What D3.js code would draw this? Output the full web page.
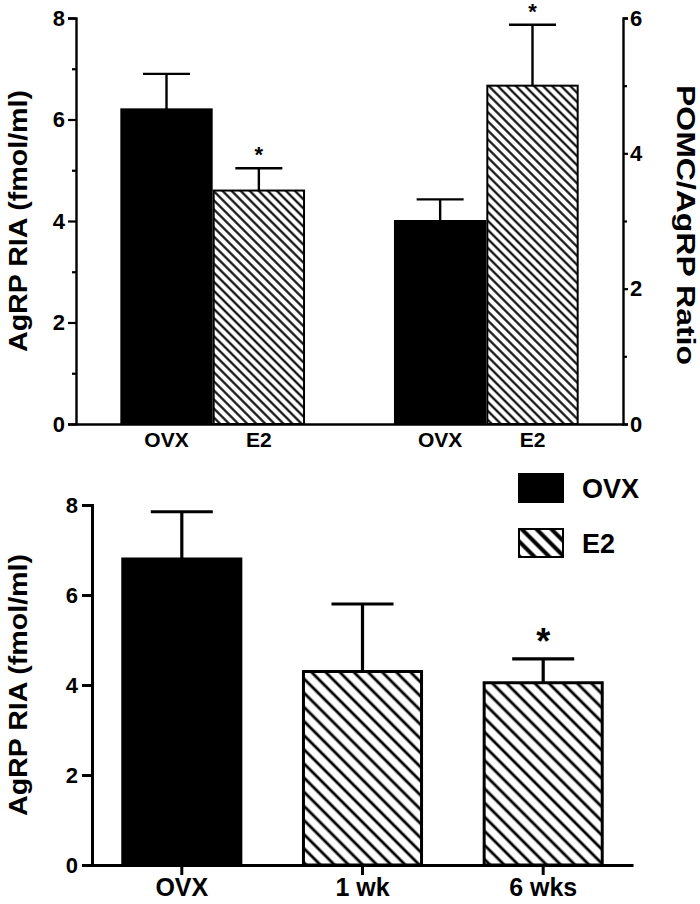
<!DOCTYPE html>
<html>
<head>
<meta charset="utf-8">
<script src="https://cdn.jsdelivr.net/npm/d3@7"></script>
<style>
  html, body { margin: 0; padding: 0; background: #fff; }
  svg { display: block; }
  text { font-family: "Liberation Sans", Arial, Helvetica, sans-serif; font-weight: bold; fill: #000; }
</style>
</head>
<body>
<svg id="chart" width="700" height="904"></svg>
<script>
// ---------- data ----------
const topGroups = ["AgRP", "Ratio"];
const topCategories = ["OVX", "E2"];
const topAgrpMeans = [6.2, 4.6];
const topAgrpErrors = [0.7, 0.44];
const topRatioMeans = [3.0, 5.0];
const topRatioErrors = [0.32, 0.9];
const topSignificant = [false, true];

const bottomCategories = ["OVX", "1 wk", "6 wks"];
const bottomMeans = [6.8, 4.3, 4.05];
const bottomErrors = [1.05, 1.5, 0.53];
const bottomSignificant = [false, false, true];
const bottomFills = ["OVX", "E2", "E2"];

const leftTicks = [0, 2, 4, 6, 8];
const leftMinorTicks = [1, 3, 5, 7];
const rightTicks = [0, 2, 4, 6];
const rightMinorTicks = [1, 3, 5];
const bottomTicks = [0, 2, 4, 6, 8];

const legendItems = ["OVX", "E2"];
const leftTitle = "AgRP RIA (fmol/ml)";
const rightTitle = "POMC/AgRP Ratio";

// ---------- setup ----------
const svg = d3.select("#chart");
const defs = svg.append("defs");
function hatch(id, spacing, width) {
  const p = defs.append("pattern").attr("id", id)
    .attr("patternUnits", "userSpaceOnUse")
    .attr("width", spacing).attr("height", spacing)
    .attr("patternTransform", "rotate(-45)");
  p.append("rect").attr("width", spacing).attr("height", spacing).attr("fill", "#fff");
  p.append("line").attr("x1", spacing / 2).attr("x2", spacing / 2)
    .attr("y1", 0).attr("y2", spacing)
    .attr("stroke", "#000").attr("stroke-width", width);
}
hatch("hatchTop", 6.4, 2.1);
hatch("hatchBottom", 10, 2.8);
hatch("hatchLegend", 10.5, 4);

// ---------- top chart ----------
const tX0 = 76, tX1 = 623, tY0 = 424, tY1 = 18;
const xGroup = d3.scaleBand().domain(topGroups).range([tX0, tX1])
  .paddingInner(0.325).paddingOuter(0.162);
const xInner = d3.scaleBand().domain(topCategories).range([0, xGroup.bandwidth()]);
const yLeft = d3.scaleLinear().domain([0, 8]).range([tY0, tY1]);
const yRight = d3.scaleLinear().domain([0, 6]).range([tY0, tY1]);

const topData = [];
topGroups.forEach((g, gi) => {
  topCategories.forEach((c, ci) => {
    const isA = gi === 0;
    topData.push({
      group: g, cat: c,
      mean: isA ? topAgrpMeans[ci] : topRatioMeans[ci],
      err: isA ? topAgrpErrors[ci] : topRatioErrors[ci],
      sig: topSignificant[ci],
      y: isA ? yLeft : yRight
    });
  });
});

const topG = svg.append("g");
topData.forEach(d => {
  const x = xGroup(d.group) + xInner(d.cat);
  const w = xInner.bandwidth();
  const cx = x + w / 2;
  const yTop = d.y(d.mean);
  const yCap = d.y(d.mean + d.err);
  topG.append("line").attr("x1", cx).attr("x2", cx).attr("y1", yTop).attr("y2", yCap)
    .attr("stroke", "#000").attr("stroke-width", 2.4);
  topG.append("line").attr("x1", cx - 23.5).attr("x2", cx + 23.5).attr("y1", yCap).attr("y2", yCap)
    .attr("stroke", "#000").attr("stroke-width", 2.4);
  topG.append("rect").attr("x", x + 1).attr("y", yTop)
    .attr("width", w - 2).attr("height", tY0 - yTop)
    .attr("fill", d.cat === "OVX" ? "#000" : "url(#hatchTop)")
    .attr("stroke", "#000").attr("stroke-width", 2);
  if (d.sig) {
    topG.append("text").attr("x", cx).attr("y", yCap - 6)
      .attr("text-anchor", "middle").style("font-size", "22px").text("*");
  }
  topG.append("text").attr("x", cx).attr("y", 447)
    .attr("text-anchor", "middle").style("font-size", "21px").text(d.cat);
});

// top axes
const leftAxis = svg.append("g").attr("transform", `translate(${tX0},0)`)
  .call(d3.axisLeft(yLeft).tickValues(leftTicks).tickFormat(d3.format("d")).tickSize(8).tickPadding(3));
svg.append("g").attr("transform", `translate(${tX0},0)`)
  .call(d3.axisLeft(yLeft).tickValues(leftMinorTicks).tickFormat("").tickSize(4))
  .select(".domain").remove();
const rightAxis = svg.append("g").attr("transform", `translate(${tX1},0)`)
  .call(d3.axisRight(yRight).tickValues(rightTicks).tickFormat(d3.format("d")).tickSize(5).tickPadding(2));
svg.append("g").attr("transform", `translate(${tX1},0)`)
  .call(d3.axisRight(yRight).tickValues(rightMinorTicks).tickFormat("").tickSize(4))
  .select(".domain").remove();
const topXAxis = svg.append("g").attr("transform", `translate(0,${tY0})`)
  .call(d3.axisBottom(d3.scaleLinear().domain([0, 1]).range([tX0, tX1])).tickValues([]).tickSizeOuter(0));

// bottom chart
const bX0 = 92, bX1 = 633, bY0 = 865, bY1 = 505;
const xB = d3.scaleBand().domain(bottomCategories).range([bX0, bX1])
  .paddingInner(0.33).paddingOuter(0.162);
const yB = d3.scaleLinear().domain([0, 8]).range([bY0, bY1]);
const botG = svg.append("g");
bottomCategories.forEach((c, i) => {
  const x = xB(c), w = xB.bandwidth(), cx = x + w / 2;
  const yTop = yB(bottomMeans[i]);
  const yCap = yB(bottomMeans[i] + bottomErrors[i]);
  botG.append("line").attr("x1", cx).attr("x2", cx).attr("y1", yTop).attr("y2", yCap)
    .attr("stroke", "#000").attr("stroke-width", 3.2);
  botG.append("line").attr("x1", cx - 31).attr("x2", cx + 31).attr("y1", yCap).attr("y2", yCap)
    .attr("stroke", "#000").attr("stroke-width", 3.2);
  botG.append("rect").attr("x", x + 1.5).attr("y", yTop)
    .attr("width", w - 3).attr("height", bY0 - yTop)
    .attr("fill", bottomFills[i] === "OVX" ? "#000" : "url(#hatchBottom)")
    .attr("stroke", "#000").attr("stroke-width", 3);
  if (bottomSignificant[i]) {
    botG.append("text").attr("x", cx).attr("y", yCap - 5)
      .attr("text-anchor", "middle").style("font-size", "36px").text("*");
  }
});
const bLeft = svg.append("g").attr("transform", `translate(${bX0},0)`)
  .call(d3.axisLeft(yB).tickValues(bottomTicks).tickFormat(d3.format("d")).tickSize(10).tickPadding(4));
const bXAxis = svg.append("g").attr("transform", `translate(0,${bY0})`)
  .call(d3.axisBottom(xB).tickSize(10).tickSizeOuter(0).tickPadding(3));

// axis styling
[leftAxis, rightAxis, topXAxis].forEach(a => {
  a.selectAll(".domain").attr("stroke-width", 2.4).attr("stroke", "#000");
  a.selectAll(".tick line").attr("stroke-width", 2.2).attr("stroke", "#000");
  a.selectAll(".tick text").style("font-size", "22px").attr("fill", "#000");
});
svg.selectAll("g .tick line").attr("stroke-width", 2.2);
[bLeft, bXAxis].forEach(a => {
  a.selectAll(".domain").attr("stroke-width", 3).attr("stroke", "#000");
  a.selectAll(".tick line").attr("stroke-width", 3).attr("stroke", "#000");
  a.selectAll(".tick text").style("font-size", "22px").attr("fill", "#000");
});
bXAxis.selectAll(".tick text").style("font-size", "25px");
svg.selectAll(".domain").attr("fill", "none");

// titles
svg.append("text").attr("transform", `translate(27,${(tY0 + tY1) / 2}) rotate(-90)`)
  .attr("text-anchor", "middle").style("font-size", "26px")
  .attr("textLength", 262).attr("lengthAdjust", "spacingAndGlyphs").text(leftTitle);
svg.append("text").attr("transform", `translate(677,${(tY0 + tY1) / 2 + 4}) rotate(90)`)
  .attr("text-anchor", "middle").style("font-size", "26px")
  .attr("textLength", 280).attr("lengthAdjust", "spacingAndGlyphs").text(rightTitle);
svg.append("text").attr("transform", `translate(27,${(bY0 + bY1) / 2}) rotate(-90)`)
  .attr("text-anchor", "middle").style("font-size", "26px")
  .attr("textLength", 262).attr("lengthAdjust", "spacingAndGlyphs").text(leftTitle);

// legend
const leg = svg.append("g");
legendItems.forEach((k, i) => {
  const y = 474 + i * 55;
  leg.append("rect").attr("x", 519).attr("y", y).attr("width", 44).attr("height", 28)
    .attr("fill", k === "OVX" ? "#000" : "url(#hatchLegend)")
    .attr("stroke", "#000").attr("stroke-width", 2);
  leg.append("text").attr("x", 582).attr("y", y + 24).style("font-size", "27px").text(k);
});
</script>
</body>
</html>
